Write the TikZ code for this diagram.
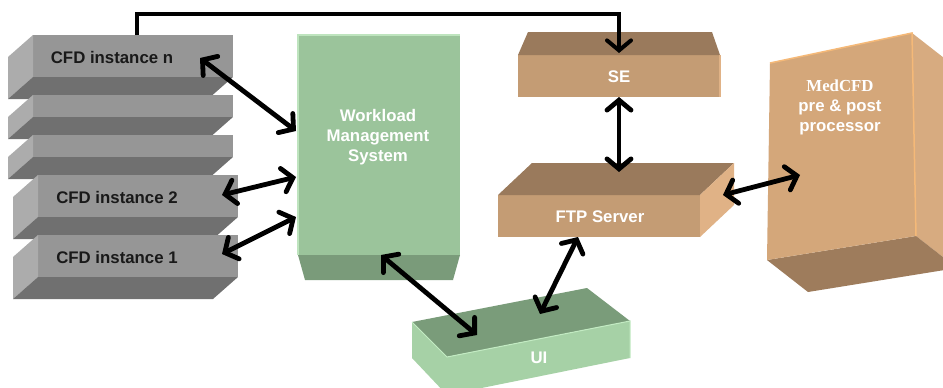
\documentclass[tikz,border=0pt]{standalone}
\usepackage{fontspec}
\setmainfont{Liberation Sans}
\newfontfamily\timesf{Liberation Serif}
\usetikzlibrary{arrows.meta}
\definecolor{gfront}{RGB}{150,150,150}
\definecolor{gleft}{RGB}{172,172,172}
\definecolor{gbottom}{RGB}{112,112,112}
\definecolor{wmsfront}{RGB}{155,196,155}
\definecolor{wmsedge}{RGB}{190,228,190}
\definecolor{wmsbottom}{RGB}{122,155,122}
\definecolor{brtop}{RGB}{154,122,92}
\definecolor{brfront}{RGB}{196,156,116}
\definecolor{brright}{RGB}{224,178,134}
\definecolor{medfront}{RGB}{212,167,122}
\definecolor{medright}{RGB}{215,171,128}
\definecolor{medbottom}{RGB}{158,124,92}
\definecolor{mededge}{RGB}{245,185,120}
\definecolor{uitop}{RGB}{122,156,122}
\definecolor{uifront}{RGB}{166,209,166}
\definecolor{uiedge}{RGB}{195,235,195}
\begin{document}
\begin{tikzpicture}[x=1pt,y=-1pt,
  facebox/.style={anchor=north west, inner sep=0pt, outer sep=0pt, draw=none},
  lbl/.style={font=\fontsize{16.8}{20}\selectfont\bfseries, align=center, inner sep=0pt},
  wlbl/.style={lbl, text=white},
  tip/.tip={Straight Barb[length=10pt,width=24pt,line cap=round]},
  conn/.style={line width=4.8pt, tip-tip},
  conn1/.style={line width=4pt, -tip}]
\useasboundingbox (0,0) rectangle (943,388);
\fill[white] (0,0) rectangle (943,388);

% CFD stack
\node[facebox, fill=gfront, minimum width=200pt, minimum height=42pt] (cfdn) at (33,35) {};
\fill[gleft] (cfdn.north west) -- ++(-25,22) -- ([shift={(-25,22)}]cfdn.south west) -- (cfdn.south west) -- cycle;
\fill[gbottom] (cfdn.south west) -- (cfdn.south east) -- ([shift={(-25,22)}]cfdn.south east) -- ([shift={(-25,22)}]cfdn.south west) -- cycle;
\node[lbl, text=black!90] (cfdn-t) at (112,57) {CFD instance n};

\node[facebox, fill=gfront, minimum width=200pt, minimum height=22pt] (cfdb) at (33,95) {};
\fill[gleft] (cfdb.north west) -- ++(-25,22) -- ([shift={(-25,22)}]cfdb.south west) -- (cfdb.south west) -- cycle;
\fill[gbottom] (cfdb.south west) -- (cfdb.south east) -- ([shift={(-25,22)}]cfdb.south east) -- ([shift={(-25,22)}]cfdb.south west) -- cycle;

\node[facebox, fill=gfront, minimum width=200pt, minimum height=22pt] (cfdc) at (33,135) {};
\fill[gleft] (cfdc.north west) -- ++(-25,22) -- ([shift={(-25,22)}]cfdc.south west) -- (cfdc.south west) -- cycle;
\fill[gbottom] (cfdc.south west) -- (cfdc.south east) -- ([shift={(-25,22)}]cfdc.south east) -- ([shift={(-25,22)}]cfdc.south west) -- cycle;

\node[facebox, fill=gfront, minimum width=200pt, minimum height=42pt] (cfd2) at (38,175) {};
\fill[gleft] (cfd2.north west) -- ++(-25,22) -- ([shift={(-25,22)}]cfd2.south west) -- (cfd2.south west) -- cycle;
\fill[gbottom] (cfd2.south west) -- (cfd2.south east) -- ([shift={(-25,22)}]cfd2.south east) -- ([shift={(-25,22)}]cfd2.south west) -- cycle;
\node[lbl, text=black!90] (cfd2-t) at (117,197) {CFD instance 2};

\node[facebox, fill=gfront, minimum width=200pt, minimum height=42pt] (cfd1) at (38,235) {};
\fill[gleft] (cfd1.north west) -- ++(-25,22) -- ([shift={(-25,22)}]cfd1.south west) -- (cfd1.south west) -- cycle;
\fill[gbottom] (cfd1.south west) -- (cfd1.south east) -- ([shift={(-25,22)}]cfd1.south east) -- ([shift={(-25,22)}]cfd1.south west) -- cycle;
\node[lbl, text=black!90] (cfd1-t) at (117,257) {CFD instance 1};

% WMS
\node[facebox, fill=wmsfront, minimum width=162pt, minimum height=220pt] (wms) at (298,35) {};
\fill[wmsbottom] (wms.south west) -- (wms.south east) -- ([shift={(-7,25)}]wms.south east) -- ([shift={(7,25)}]wms.south west) -- cycle;
\draw[wmsedge, line width=1.5pt] (wms.south west) -- (wms.north west) -- (wms.north east);
\node[wlbl] (wms-t) at (378,137) {Workload\\Management\\System};

% SE
\node[facebox, fill=brfront, minimum width=202pt, minimum height=42pt] (se) at (518,55) {};
\fill[brtop] (se.north west) -- ([shift={(10,-23)}]se.north west) -- ([shift={(-8,-23)}]se.north east) -- (se.north east) -- cycle;
\draw[brright, line width=1.5pt] (se.north east) -- (se.south east);
\node[wlbl] (se-t) at (619,77) {SE};

% FTP
\node[facebox, fill=brfront, minimum width=202pt, minimum height=42pt] (ftp) at (498,195) {};
\fill[brtop] (ftp.north west) -- ([shift={(34,-32)}]ftp.north west) -- ([shift={(34,-32)}]ftp.north east) -- (ftp.north east) -- cycle;
\fill[brright] (ftp.north east) -- ([shift={(34,-32)}]ftp.north east) -- ([shift={(34,10)}]ftp.north east) -- (ftp.south east) -- cycle;
\node[wlbl] (ftp-t) at (600,217) {FTP Server};

% MedCFD
\coordinate (m1) at (770,63);
\coordinate (m2) at (912,33);
\coordinate (m3) at (916,236);
\coordinate (m4) at (767,260);
\fill[medright] (m2) -- (953,65) -- (957,268) -- (m3) -- cycle;
\fill[medbottom] (m4) -- (m3) -- (957,268) -- (808,292) -- cycle;
\fill[medfront] (m1) -- (m2) -- (m3) -- (m4) -- cycle;
\draw[mededge, line width=1.5pt] (m1) -- (m2) -- (m3);
\node[wlbl] (med-t) at (840,107) {{\timesf MedCFD}\\pre \& post\\processor};

% UI
\coordinate (u1) at (412,322);
\coordinate (u2) at (587,288);
\coordinate (u3) at (630,321);
\coordinate (u4) at (447,357);
\fill[uitop] (u1) -- (u2) -- (u3) -- (u4) -- cycle;
\fill[uifront] (u4) -- (u3) -- (630,358) -- (447,395) -- cycle;
\fill[uifront] (u1) -- (u4) -- (447,395) -- (412,358) -- cycle;
\draw[uiedge, line width=1pt] (u1) -- (u4) -- (u3) -- (630,358);
\node[wlbl] (ui-t) at (539,358) {UI};

% connector end points
\coordinate (cfdn-top) at (137,35);
\coordinate (se-in) at (619,53);
\coordinate (cfdn-e) at (200,58);
\coordinate (wms-w1) at (296,131);
\coordinate (cfd2-e) at (222,195);
\coordinate (wms-w2) at (296,177);
\coordinate (cfd1-e) at (222,254);
\coordinate (wms-w3) at (296,217);
\coordinate (se-s) at (619,97);
\coordinate (ftp-n) at (619,172);
\coordinate (ftp-e) at (723,195);
\coordinate (med-w) at (800,175);
\coordinate (wms-s) at (381,255);
\coordinate (ui-a) at (477,335);
\coordinate (ftp-s) at (578,237);
\coordinate (ui-b) at (540,314);

% connectors
\draw[conn1] (cfdn-top) -- ++(0,-21) -| (se-in);
\draw[conn] (cfdn-e) -- (wms-w1);
\draw[conn] (cfd2-e) -- (wms-w2);
\draw[conn] (cfd1-e) -- (wms-w3);
\draw[conn] (se-s) -- (ftp-n);
\draw[conn] (ftp-e) -- (med-w);
\draw[conn] (wms-s) -- (ui-a);
\draw[conn] (ftp-s) -- (ui-b);
\end{tikzpicture}
\end{document}
